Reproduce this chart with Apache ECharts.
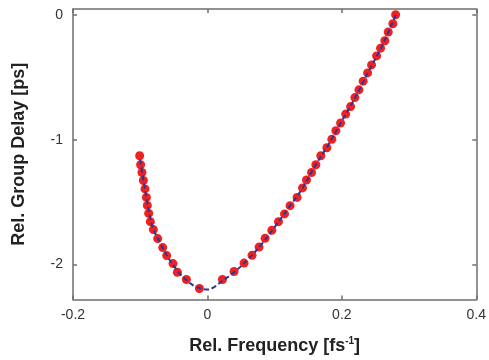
<!DOCTYPE html>
<html>
<head>
<meta charset="utf-8">
<script src="https://cdn.jsdelivr.net/npm/echarts@6/dist/echarts.min.js"></script>
<style>
  html, body { margin: 0; padding: 0; background: #fff; }
  #chart { width: 489px; height: 360px; }
</style>
</head>
<body>
<div id="chart"></div>
<script>
// measured points (rel. frequency, rel. group delay)
const measX = [
  -0.1008, -0.0994, -0.0974, -0.0953, -0.0929, -0.0908, -0.0894, -0.0874, -0.0849,
  -0.0804, -0.0740, -0.0665, -0.0606, -0.0512, -0.0447, -0.0313, -0.0119,
  0.0223, 0.0396, 0.0545, 0.0664, 0.0768, 0.0858, 0.0958, 0.1057, 0.1147, 0.1230,
  0.1334, 0.1415, 0.1474, 0.1549, 0.1613, 0.1687, 0.1777, 0.1851, 0.1911, 0.1981,
  0.2057, 0.2130, 0.2194, 0.2254, 0.2317, 0.2383, 0.2442, 0.2517, 0.2576, 0.2640,
  0.2690, 0.2759, 0.2800
]
const measY = [
  -1.128, -1.200, -1.262, -1.326, -1.394, -1.462, -1.526, -1.590, -1.656,
  -1.720, -1.792, -1.864, -1.928, -1.992, -2.062, -2.120, -2.192,
  -2.120, -2.056, -1.988, -1.926, -1.860, -1.790, -1.726, -1.656, -1.594, -1.528,
  -1.462, -1.386, -1.322, -1.262, -1.200, -1.128, -1.064, -0.996, -0.928, -0.866,
  -0.794, -0.734, -0.662, -0.600, -0.530, -0.464, -0.400, -0.328, -0.266, -0.206,
  -0.136, -0.070, 0.002
]
// fitted curve (dashed)
const fitX = [
  -0.100, -0.095, -0.090, -0.085, -0.080, -0.070, -0.060, -0.050, -0.040, -0.030,
  -0.020, -0.010, 0.000, 0.010, 0.020, 0.040, 0.060, 0.080, 0.100, 0.120, 0.140,
  0.160, 0.180, 0.200, 0.220, 0.240, 0.260, 0.281
]
const fitY = [
  -1.16, -1.33, -1.49, -1.63, -1.72, -1.83, -1.93, -2.01, -2.08, -2.13,
  -2.17, -2.19, -2.20, -2.18, -2.14, -2.06, -1.96, -1.84, -1.70, -1.55, -1.40,
  -1.21, -1.04, -0.85, -0.66, -0.45, -0.245, 0.01
]
const xTicks = [-0.2, 0, 0.2, 0.4]
const yTicks = [-2, -1, 0]

const frameColor = '#6e6e6e'
const fontFamily = '"Liberation Sans", Arial, sans-serif'

const chart = echarts.init(document.getElementById('chart'))

const option = {
  animation: false,
  grid: { left: 73, right: 12, top: 9, bottom: 60 },
  xAxis: [
    {
      type: 'value',
      min: -0.2,
      max: 0.4,
      interval: 0.2,
      name: 'Rel. Frequency [fs{sup|-1}]',
      nameLocation: 'middle',
      nameGap: 37,
      nameTextStyle: {
        fontFamily: fontFamily,
        fontWeight: 'bold',
        fontSize: 18,
        color: '#222',
        rich: {
          sup: { fontSize: 10, fontWeight: 'bold', color: '#222', fontFamily: fontFamily, verticalAlign: 'top', padding: [0, 0, 9, 0] }
        }
      },
      axisLine: { onZero: false, lineStyle: { color: frameColor, width: 1.5 } },
      axisTick: { inside: true, length: 4, lineStyle: { color: frameColor, width: 1.5 } },
      axisLabel: {
        color: '#333', fontSize: 14, fontFamily: fontFamily, margin: 9,
        formatter: function (v) { return String(Math.round(v * 10) / 10) }
      },
      splitLine: { show: false }
    },
    {
      type: 'value',
      position: 'top',
      min: -0.2,
      max: 0.4,
      interval: 0.2,
      axisLine: { onZero: false, lineStyle: { color: frameColor, width: 1.5 } },
      axisTick: { inside: true, length: 4, lineStyle: { color: frameColor, width: 1.5 } },
      axisLabel: { show: false },
      splitLine: { show: false }
    }
  ],
  yAxis: [
    {
      type: 'value',
      min: -2.28,
      max: 0.048,
      name: 'Rel. Group Delay [ps]',
      nameLocation: 'middle',
      nameGap: 45,
      nameTextStyle: {
        fontFamily: fontFamily,
        fontWeight: 'bold',
        fontSize: 18,
        color: '#222'
      },
      axisLine: { onZero: false, lineStyle: { color: frameColor, width: 1.5 } },
      axisTick: { inside: true, length: 4, customValues: yTicks, lineStyle: { color: frameColor, width: 1.5 } },
      axisLabel: { color: '#333', fontSize: 14, fontFamily: fontFamily, margin: 10, customValues: yTicks },
      splitLine: { show: false }
    },
    {
      type: 'value',
      position: 'right',
      min: -2.28,
      max: 0.048,
      axisLine: { show: true, onZero: false, lineStyle: { color: frameColor, width: 1.5 } },
      axisTick: { show: true, inside: true, length: 4, customValues: yTicks, lineStyle: { color: frameColor, width: 1.5 } },
      axisLabel: { show: false },
      splitLine: { show: false }
    }
  ],
  series: [
    {
      name: 'measured',
      type: 'scatter',
      symbol: 'circle',
      symbolSize: 9,
      itemStyle: { color: '#ee2222', opacity: 1 },
      data: measX.map((x, i) => [x, measY[i]]),
      z: 2
    },
    {
      name: 'fit',
      type: 'line',
      smooth: true,
      showSymbol: false,
      symbol: 'none',
      lineStyle: { color: '#2b3596', width: 2, type: [5, 3] },
      data: fitX.map((x, i) => [x, fitY[i]]),
      z: 3
    }
  ]
}

chart.setOption(option)
</script>
</body>
</html>
